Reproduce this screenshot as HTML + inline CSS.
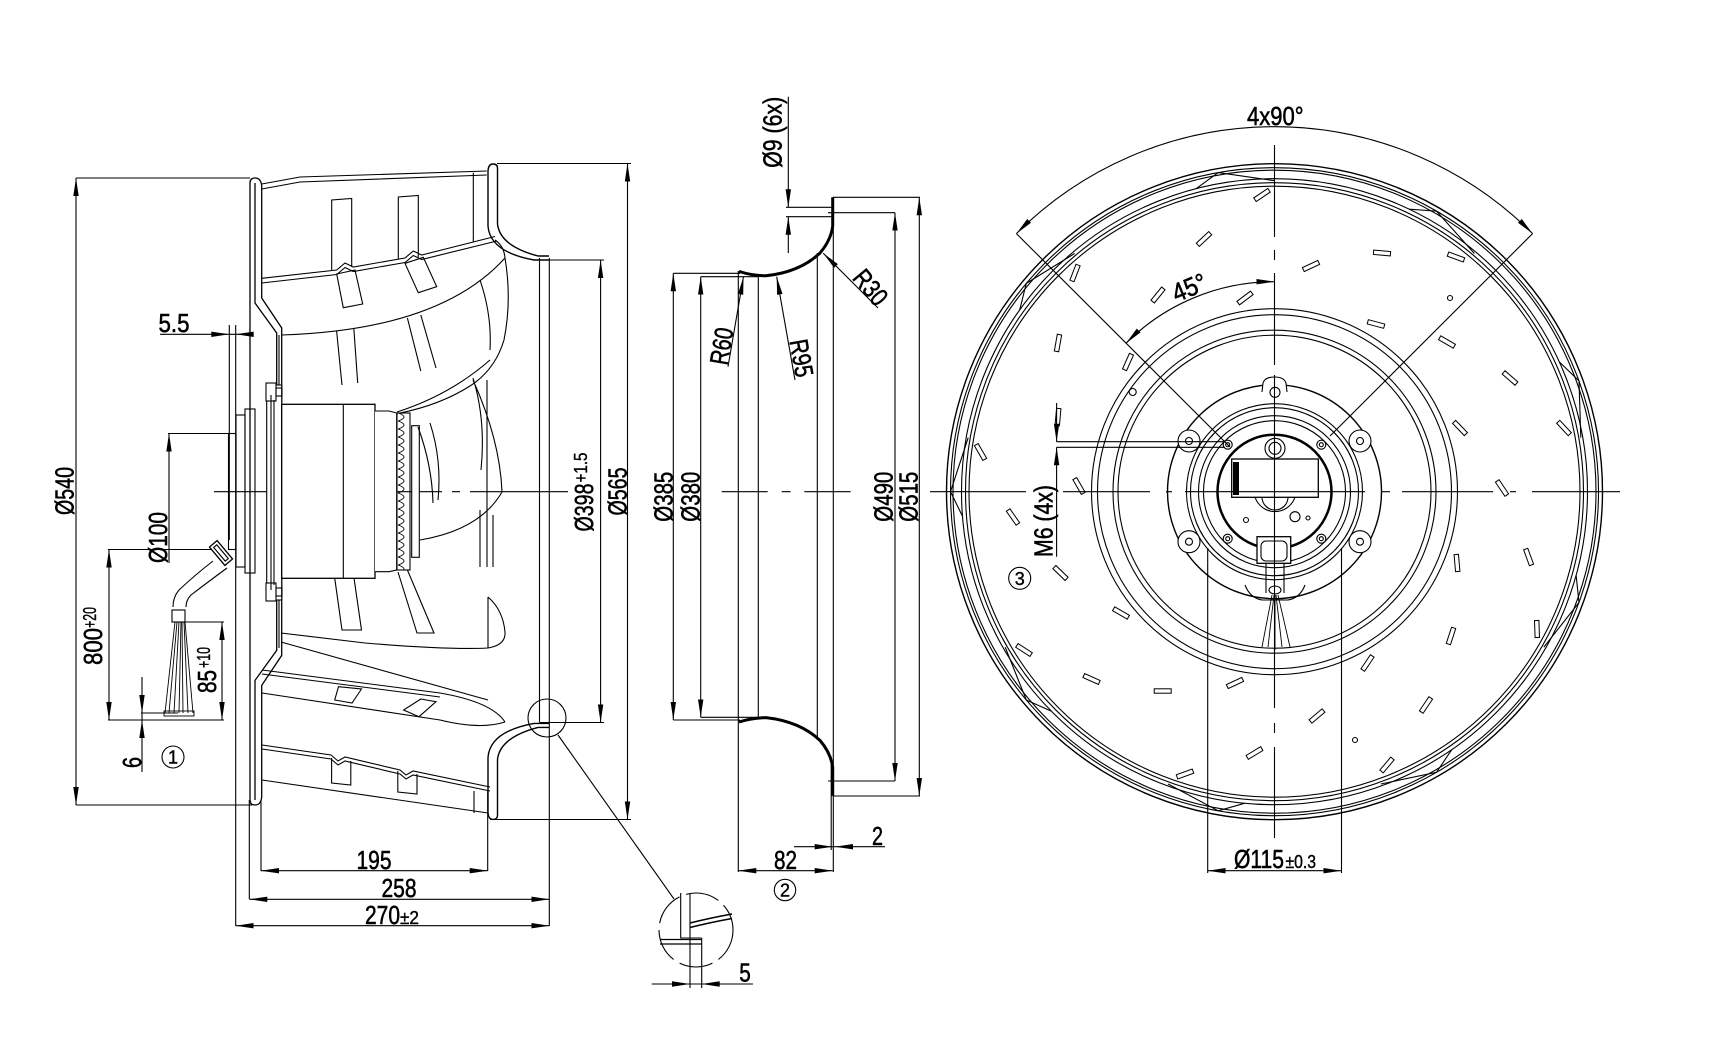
<!DOCTYPE html>
<html><head><meta charset="utf-8"><style>
html,body{margin:0;padding:0;background:#fff}
svg{display:block}
text{font-family:"Liberation Sans",sans-serif;fill:#000;stroke:#000;stroke-width:0.55px;font-size:26px}
.s{font-size:18px;stroke-width:0.4px}
</style></head><body>
<svg width="1720" height="1051" viewBox="0 0 1720 1051" xmlns="http://www.w3.org/2000/svg">
<defs>
<marker id="a" markerUnits="userSpaceOnUse" markerWidth="18" markerHeight="6" refX="18" refY="3" orient="auto-start-reverse" viewBox="0 0 18 6"><path d="M0,0.3 L18,3 L0,5.7Z" fill="#000" stroke="none"/></marker>
<pattern id="fin" patternUnits="userSpaceOnUse" x="397" y="413" width="13" height="8"><path d="M1,0 Q13,4 1,8" fill="none" stroke="#000" stroke-width="0.9"/></pattern>
</defs>
<rect width="1720" height="1051" fill="#fff"/>
<g fill="none" stroke="#000" stroke-width="1.1">

<!-- ================= LEFT VIEW ================= -->
<path d="M76,178H250 M76,805H252 M497,163.5H631 M490,819.5H631 M540,260H604 M540,722.5H604 M168,433.5H231 M108,549.5H212 M185,622H224 M108,720H224 M141,713H178"/>
<path d="M229.3,325V540 M235.7,325V926 M249.3,800V899 M261,800V871 M487.7,790V871 M549.3,258V926 M539.5,258V722.5"/>
<path d="M76,178V805" marker-start="url(#a)" marker-end="url(#a)"/>
<path d="M627.5,163.5V819.5" marker-start="url(#a)" marker-end="url(#a)"/>
<path d="M600.6,260V722.5" marker-start="url(#a)" marker-end="url(#a)"/>
<path d="M109,549.5V720" marker-start="url(#a)" marker-end="url(#a)"/>
<path d="M222,622V720" marker-start="url(#a)" marker-end="url(#a)"/>
<path d="M261,870.7H487.7" marker-start="url(#a)" marker-end="url(#a)"/>
<path d="M249.3,899.3H549.3" marker-start="url(#a)" marker-end="url(#a)"/>
<path d="M235.7,925.7H549.3" marker-start="url(#a)" marker-end="url(#a)"/>
<path d="M169,433.5V563" marker-start="url(#a)"/>
<path d="M142,677V772 M160,334.3H252"/>
<g fill="#000" stroke="none">
<polygon points="142,713 139.3,695 144.7,695"/><polygon points="142,720 139.3,738 144.7,738"/>
<polygon points="229.3,334.3 211.3,331.6 211.3,337"/><polygon points="235.7,334.3 253.7,331.6 253.7,337"/>
</g>
<path d="M214,491.7H568" stroke-dasharray="100 10 8 10"/>

<path d="M250,800V183Q250,178 255,178Q261,178 261.7,186" stroke-width="1.3"/>
<path d="M250,800Q250,805 255,805Q261,805 261.7,797" stroke-width="1.3"/>
<path d="M255,183V303L276.7,333V650.4L255,680.4V800" stroke-width="1.3"/>
<path d="M261.7,186V298L281.7,328V655.4L261.7,685.4V797" stroke-width="1.3"/>
<path d="M279,335V385 M279,598V648"/>
<rect x="228.5" y="433.5" width="7.5" height="116"/>
<rect x="236" y="415" width="9" height="152"/>
<rect x="245" y="409" width="10" height="164"/>
<rect x="266.7" y="385" width="15" height="215" fill="#fff"/>
<rect x="266" y="383" width="10" height="18" fill="#fff"/><rect x="276" y="388" width="6" height="8"/>
<rect x="266" y="583" width="10" height="18" fill="#fff"/><rect x="276" y="588" width="6" height="8"/>
<path d="M271,395V590 M274,400V585"/>
<rect x="281.7" y="404.3" width="93.3" height="174" fill="#fff" stroke-width="1.3"/>
<path d="M343.3,404.3V578.3"/>
<path d="M375,411H389L396.7,413V570L389,571.7H375" fill="#fff"/>
<rect x="397" y="413" width="13" height="157" fill="url(#fin)"/>
<rect x="411.7" y="425.7" width="7.6" height="131.6" fill="#fff"/>
<rect x="-5" y="-12" width="10" height="24" transform="translate(221,553) rotate(-40)" fill="#fff" stroke-width="1.3"/>
<rect x="-2" y="-9" width="4" height="18" transform="translate(221,553) rotate(-40)"/>
<path d="M213,561Q195,575 179,590Q173,597 173,607 M227,568Q208,582 191,595Q186,600 186,607"/>
<rect x="172" y="610" width="13" height="12"/>
<path d="M175,622L165,713 M177,622L169,713 M179,622L174,713 M181,622L179,713 M182,622L183,713 M184,622L188,713 M185,622L193,713" stroke-width="0.9"/>
<rect x="164" y="711" width="30" height="5" stroke-width="0.9"/>

<path d="M261.7,184L300,177L486.7,171 M261.7,189L300,182L486.7,175"/>
<path d="M473.3,172.7V241.7"/>
<path d="M331.7,270V200L351.7,198.5V267 M398.3,259V197L418.3,195.5V257"/>
<path d="M261.7,278.3L336.7,270L345,263L353.3,267L405,258L413.3,251L421.7,255L495,236.5" />
<path d="M261.7,283L336.7,274.5L345,267.5L353.3,271.5L405,262.5L413.3,255.5L421.7,259.5L497,241"/>
<path d="M336.7,274L355,270L362.7,304L343.3,307.7Z M405,263.3L423.3,257.3L436.7,286.7L418.3,292.7Z"/>
<path d="M488,226V172Q488,164 493,164Q497.5,164 497.5,168V224" stroke-width="1.4"/>
<path d="M488,226Q490,252 534,260H549 M497.5,224Q500,246 538,256H549" stroke-width="1.4"/>
<path d="M281.7,335Q440,330 505,258"/>
<path d="M336.6,331L342,385 M353.8,328L357.7,383 M407.4,318L420.8,371 M420.8,315L436,368"/>
<path d="M495,240Q504,246 505,258Q512,300 504,340Q495,370 470,386Q440,405 400,413"/>
<path d="M480,280Q492,315 490,350 M397,412Q450,395 490,360"/>
<path d="M487,380V567 M473,378Q486,420 481,470 M502,492Q500,440 473,380"/>
<path d="M418,427Q432,465 433,503 M430,423Q442,460 438,500"/>
<path d="M420,540Q480,530 502,492"/>
<path d="M334.7,578L342,630H361.5L354,578 M398,572L417,633H434L407.4,570"/>
<path d="M480,510V567 M493,515V567"/>
<path d="M281,633L365,643Q450,650 488,648Q506,645 505,632Q503,610 488,597 M488,597V648"/>
<path d="M281,642L488,700"/>
<path d="M262,670L440,693Q492,702 505,722 M262,674L440,697 M262,693L440,720Q480,730 505,722"/>
<path d="M338.5,686.7L361.5,689L352,703L334.7,700Z M420.8,699L436,701.7L419,716.7L403.6,710Z"/>
<path d="M262,745L331,755L338,761L345,757L400,770L406,775L413,771L490,787 M262,749L331,759L338,765L345,761L400,774L406,779L413,775L490,791"/>
<path d="M262,780L488,813 M474,791V813"/>
<path d="M331.6,758V783L350.8,785V761 M397.8,771V792L417,794V774"/>
<path d="M488,757.4V811.4Q488,819.4 493,819.4Q497.5,819.4 497.5,815.4V759.4" stroke-width="1.4"/>
<path d="M488,757.4Q490,731.4 534,723.4H549 M497.5,759.4Q500,737.4 538,727.4H549" stroke-width="1.4"/>
<circle cx="547" cy="718" r="19"/>
<path d="M558,735L674,899"/>
<circle cx="173" cy="757" r="11"/>

<!-- ================= MIDDLE VIEW ================= -->
<path d="M673.3,273.3H740 M673.3,720H740 M700.7,276.7H758 M700.7,717.3H758 M828,212.7H895 M828,781H895 M833,197.3H920 M833,796H920 M786,207.3H833 M786,216.7H833"/>
<path d="M738.3,271V872 M758.3,276V717 M817.3,253V740 M833.3,197V872 M831.2,760V850"/>
<path d="M673.3,273.3V720" marker-start="url(#a)" marker-end="url(#a)"/>
<path d="M700.7,276.7V717.3" marker-start="url(#a)" marker-end="url(#a)"/>
<path d="M895,212.7V781" marker-start="url(#a)" marker-end="url(#a)"/>
<path d="M919.3,197.3V796" marker-start="url(#a)" marker-end="url(#a)"/>
<path d="M738.3,870.7H832.7" marker-start="url(#a)" marker-end="url(#a)"/>
<path d="M794,846.7H885 M788.3,96.7V207.3 M788.3,216.7V253"/>
<path d="M739,271.5L741,272Q752,275.5 766,275.8Q800,272 820,253Q831,240 832.7,226L832.7,197.3" stroke-width="3"/>
<path d="M739,721.9L741,721.4Q752,717.9 766,717.6Q800,721.4 820,740.4Q831,753.4 832.7,767.4L832.7,796.1" stroke-width="3"/>
<path d="M743.5,276.7L728,366.7 M776.7,276.7L795,380 M823.3,253.3L878,308"/>
<path d="M721.7,491.7H767.7 M781.7,491.7H790.7 M804.3,491.7H850.7"/>
<g fill="#000" stroke="none">
<polygon points="832.7,846.7 814.7,844 814.7,849.4"/><polygon points="835,846.7 853,844 853,849.4"/>
<polygon points="788.3,207.3 785.6,189.3 791,189.3"/><polygon points="788.3,216.7 785.6,234.7 791,234.7"/>
<polygon points="743.5,276.7 743.2,294.8 737.9,294"/>
<polygon points="776.7,276.7 782.5,293.9 777.1,294.9"/>
<polygon points="823.3,253.3 837.9,264.1 834.1,267.9"/>
<polygon points="690,984 672,981.3 672,986.7"/><polygon points="701.7,984 719.7,981.3 719.7,986.7"/>
</g>
<circle cx="785" cy="890" r="10.7"/>
<circle cx="696" cy="930" r="37" stroke-dasharray="34 7"/>
<path d="M680.7,893V938H701.7 M690,893V988 M701.7,938V988 M651.7,984H753"/>
<path d="M660,939.5H701.7 M660,944H701.7" stroke-width="1.3"/>
<path d="M690,923Q710,918 732,914 M690,927.5Q710,922.5 732,918.5" stroke-width="1.5"/>

<!-- ================= RIGHT VIEW ================= -->
<g transform="translate(1274.5,491.7)">
<circle r="328" stroke-width="1.4"/><circle r="324"/><circle r="321.5"/>
<circle r="313"/><circle r="309"/><circle r="305.5"/>
<circle r="183"/><circle r="177"/><circle r="161.5"/><circle r="156.5"/>
</g>
<path d="M1559.3,361.9L1579,380.9L1580.8,437.7 M1409.2,209.2L1436.5,211.1L1474.4,253.5 M1196.1,188.7L1218.2,172.6L1274.5,180.7 M1019.7,309.9L1026.3,283.4L1074.6,253.5 M962.5,516.3L950.5,491.7L968.2,437.7 M1051.2,711.1L1026.3,700L1005.2,647.2 M1244.5,803.3L1218.2,810.8L1168.1,784 M1451.8,749.6L1436.5,772.3L1380.9,784 M1576.1,575.3L1579,602.5L1543.8,647.2"/>
<g stroke-width="1">
<rect x="-8.5" y="-2.2" width="17" height="4.4" transform="translate(1262,195) rotate(-34)"/>
<rect x="-8.5" y="-2.2" width="17" height="4.4" transform="translate(1204,239) rotate(-43)"/>
<rect x="-8.5" y="-2.2" width="17" height="4.4" transform="translate(1382,253) rotate(5)"/>
<rect x="-8.5" y="-2.2" width="17" height="4.4" transform="translate(1456,257) rotate(20)"/>
<rect x="-8.5" y="-2.2" width="17" height="4.4" transform="translate(1311,266) rotate(-25)"/>
<rect x="-8.5" y="-2.2" width="17" height="4.4" transform="translate(1075,273) rotate(-69)"/>
<rect x="-8.5" y="-2.2" width="17" height="4.4" transform="translate(1158,295) rotate(-51)"/>
<rect x="-8.5" y="-2.2" width="17" height="4.4" transform="translate(1245,298) rotate(-37)"/>
<rect x="-8.5" y="-2.2" width="17" height="4.4" transform="translate(1376,324) rotate(15)"/>
<rect x="-8.5" y="-2.2" width="17" height="4.4" transform="translate(1058,343) rotate(-80)"/>
<rect x="-8.5" y="-2.2" width="17" height="4.4" transform="translate(1447,342) rotate(30)"/>
<rect x="-8.5" y="-2.2" width="17" height="4.4" transform="translate(1128,362) rotate(-66)"/>
<rect x="-8.5" y="-2.2" width="17" height="4.4" transform="translate(1510,378) rotate(41)"/>
<rect x="-8.5" y="-2.2" width="17" height="4.4" transform="translate(1058,417) rotate(-85)"/>
<rect x="-8.5" y="-2.2" width="17" height="4.4" transform="translate(980.5,452) rotate(60)"/>
<rect x="-8.5" y="-2.2" width="17" height="4.4" transform="translate(1460,428) rotate(46)"/>
<rect x="-8.5" y="-2.2" width="17" height="4.4" transform="translate(1564,428) rotate(47)"/>
<rect x="-8.5" y="-2.2" width="17" height="4.4" transform="translate(1079,486) rotate(60)"/>
<rect x="-8.5" y="-2.2" width="17" height="4.4" transform="translate(1502,488) rotate(56)"/>
<rect x="-8.5" y="-2.2" width="17" height="4.4" transform="translate(1013,517) rotate(55)"/>
<rect x="-8.5" y="-2.2" width="17" height="4.4" transform="translate(1060.5,573) rotate(44)"/>
<rect x="-8.5" y="-2.2" width="17" height="4.4" transform="translate(1528.6,557) rotate(70)"/>
<rect x="-8.5" y="-2.2" width="17" height="4.4" transform="translate(1457,563) rotate(85)"/>
<rect x="-8.5" y="-2.2" width="17" height="4.4" transform="translate(1121,613) rotate(30)"/>
<rect x="-8.5" y="-2.2" width="17" height="4.4" transform="translate(1537,629) rotate(88)"/>
<rect x="-8.5" y="-2.2" width="17" height="4.4" transform="translate(1451,636) rotate(-72)"/>
<rect x="-8.5" y="-2.2" width="17" height="4.4" transform="translate(1024,650) rotate(33)"/>
<rect x="-8.5" y="-2.2" width="17" height="4.4" transform="translate(1367.5,663) rotate(-56)"/>
<rect x="-8.5" y="-2.2" width="17" height="4.4" transform="translate(1091.5,679) rotate(24)"/>
<rect x="-8.5" y="-2.2" width="17" height="4.4" transform="translate(1235,683) rotate(-25)"/>
<rect x="-8.5" y="-2.2" width="17" height="4.4" transform="translate(1162.7,691) rotate(0)"/>
<rect x="-8.5" y="-2.2" width="17" height="4.4" transform="translate(1426,705) rotate(-56)"/>
<rect x="-8.5" y="-2.2" width="17" height="4.4" transform="translate(1317,716) rotate(-40)"/>
<rect x="-8.5" y="-2.2" width="17" height="4.4" transform="translate(1254.5,753) rotate(-31)"/>
<rect x="-8.5" y="-2.2" width="17" height="4.4" transform="translate(1387,765) rotate(-50)"/>
<rect x="-8.5" y="-2.2" width="17" height="4.4" transform="translate(1185,774) rotate(-20)"/>
</g>
<circle cx="1450" cy="298" r="2.5"/><circle cx="1132.7" cy="392" r="3.5"/><circle cx="1355" cy="740" r="2.5"/>

<g transform="translate(1274.5,491.7)">
<circle r="107" stroke-width="1.4" fill="#fff"/>
<circle r="88"/><circle r="84"/><circle r="76"/><circle r="71"/>
<circle r="57" stroke-width="2.5"/>
</g>
<path d="M1262,392L1263,383Q1265,377 1274.5,377Q1284,377 1286,383L1287,392" fill="#fff"/>
<circle cx="1275" cy="392.3" r="5"/>
<g fill="#fff">
<circle cx="1189" cy="441" r="11"/><circle cx="1360" cy="441" r="11"/><circle cx="1189" cy="541.7" r="11"/><circle cx="1360" cy="541.7" r="11"/>
</g>
<circle cx="1189" cy="441" r="3.5"/><circle cx="1360" cy="441" r="3.5"/><circle cx="1189" cy="541.7" r="3.5"/><circle cx="1360" cy="541.7" r="3.5"/>
<g>
<circle cx="1227.7" cy="444.7" r="4.5"/><circle cx="1227.7" cy="444.7" r="2"/>
<circle cx="1321.3" cy="444.7" r="4.5"/><circle cx="1321.3" cy="444.7" r="2"/>
<circle cx="1227.7" cy="538.7" r="4.5"/><circle cx="1227.7" cy="538.7" r="2"/>
<circle cx="1321.3" cy="538.7" r="4.5"/><circle cx="1321.3" cy="538.7" r="2"/>
</g>
<circle cx="1275" cy="448.3" r="10"/><circle cx="1275" cy="448.3" r="6"/>
<path d="M1255,497A21,21 0 0 0 1295,497 M1262,497A13,13 0 0 0 1288,497"/>
<rect x="1231.7" y="459" width="86.6" height="38.3" fill="#fff" stroke-width="1.3"/>
<rect x="1233" y="462" width="6" height="33" fill="#000" stroke="none"/>
<circle cx="1246" cy="520" r="2.5"/><circle cx="1308" cy="518" r="2"/><circle cx="1295" cy="516.7" r="5"/>
<path d="M1245,585Q1250,598 1262,600H1288Q1300,598 1305,585"/>
<rect x="1257" y="536.7" width="33.7" height="26.6" fill="#fff" stroke-width="1.3"/>
<rect x="1261" y="541" width="26" height="20" rx="5"/>
<path d="M1266,563V593 M1284,563V593"/>
<ellipse cx="1275" cy="590" rx="6" ry="4"/>
<path d="M1272,595L1262,647 M1274,595L1268,647 M1275,595L1275,650 M1276,595L1282,647 M1278,595L1290,647" stroke-width="0.9"/>
<path d="M930,491.7H1026 M1063,491.7H1150 M1166,491.7H1172 M1185,491.7H1365 M1382,491.7H1390 M1402,491.7H1493 M1510,491.7H1516 M1532,491.7H1620"/>
<path d="M1274.5,145V237 M1274.5,250V260 M1274.5,273V365 M1274.5,375V708 M1274.5,723V733 M1274.5,747V838"/>
<path d="M1230,447L1016.4,233.6 M1330,436L1532.6,233.6"/>
<path d="M1016.4,233.6A365,365 0 0 1 1532.6,233.6"/>
<path d="M1126,343.2A210,210 0 0 1 1274.5,281.7"/>
<g fill="#000" stroke="none">
<polygon points="1016.4,233.6 1027.2,219 1031,222.8"/>
<polygon points="1532.6,233.6 1518,222.8 1521.8,219"/>
<polygon points="1126,343.2 1136.8,328.6 1140.6,332.4"/>
<polygon points="1274.5,281.7 1256.5,279 1256.5,284.4"/>
<polygon points="1056.6,441.7 1053.9,423.7 1059.3,423.7"/>
<polygon points="1056.6,447.3 1053.9,465.3 1059.3,465.3"/>
</g>
<path d="M1056.6,441.7H1225 M1056.6,447.3H1225 M1056.6,403V441.7 M1056.6,447.3V556.7"/>
<path d="M1207.7,548V873 M1341.5,548V873"/>
<path d="M1207.7,870.7H1341.5" marker-start="url(#a)" marker-end="url(#a)"/>
<circle cx="1019.7" cy="578.3" r="11"/>
</g>

<!-- ================= TEXT ================= -->
<text x="158.5" y="332" textLength="31" lengthAdjust="spacingAndGlyphs">5.5</text>
<text x="356.5" y="869" textLength="35" lengthAdjust="spacingAndGlyphs">195</text>
<text x="381.5" y="897" textLength="35" lengthAdjust="spacingAndGlyphs">258</text>
<text x="365" y="924" textLength="35" lengthAdjust="spacingAndGlyphs">270</text>
<text class="s" x="400" y="924" textLength="19" lengthAdjust="spacingAndGlyphs">±2</text>
<text x="774" y="869" textLength="23" lengthAdjust="spacingAndGlyphs">82</text>
<text x="872" y="845" textLength="11" lengthAdjust="spacingAndGlyphs">2</text>
<text x="739.3" y="981.7" textLength="11.5" lengthAdjust="spacingAndGlyphs">5</text>
<text x="1234" y="868" textLength="50" lengthAdjust="spacingAndGlyphs">Ø115</text>
<text class="s" x="1285.5" y="868" textLength="30.5" lengthAdjust="spacingAndGlyphs">±0.3</text>
<text x="1247" y="125" textLength="56.6" lengthAdjust="spacingAndGlyphs">4x90°</text>
<text transform="translate(1189,287) rotate(-22.5)" x="-17.5" y="9.5" textLength="35" lengthAdjust="spacingAndGlyphs">45°</text>

<text transform="translate(64,491) rotate(-90)" x="-24" y="9.5" textLength="48" lengthAdjust="spacingAndGlyphs">Ø540</text>
<text transform="translate(157.5,537.5) rotate(-90)" x="-25.5" y="9.5" textLength="51" lengthAdjust="spacingAndGlyphs">Ø100</text>
<text transform="translate(92.5,646.5) rotate(-90)" x="-18.5" y="9.5" textLength="37" lengthAdjust="spacingAndGlyphs">800</text>
<text class="s" transform="translate(89.5,617.5) rotate(-90)" x="-10.5" y="6.5" textLength="21" lengthAdjust="spacingAndGlyphs">+20</text>
<text transform="translate(206.5,681.5) rotate(-90)" x="-11.5" y="9.5" textLength="23" lengthAdjust="spacingAndGlyphs">85</text>
<text class="s" transform="translate(203.5,657.5) rotate(-90)" x="-10.5" y="6.5" textLength="21" lengthAdjust="spacingAndGlyphs">+10</text>
<text transform="translate(131.5,762.5) rotate(-90)" x="-5.5" y="9.5" textLength="11" lengthAdjust="spacingAndGlyphs">6</text>
<text transform="translate(583.5,507.5) rotate(-90)" x="-24" y="9.5" textLength="48" lengthAdjust="spacingAndGlyphs">Ø398</text>
<text class="s" transform="translate(580.5,467.5) rotate(-90)" x="-15" y="6.5" textLength="30" lengthAdjust="spacingAndGlyphs">+1.5</text>
<text transform="translate(617,491.5) rotate(-90)" x="-24" y="9.5" textLength="48" lengthAdjust="spacingAndGlyphs">Ø565</text>
<text transform="translate(663,496.7) rotate(-90)" x="-25" y="9.5" textLength="50" lengthAdjust="spacingAndGlyphs">Ø385</text>
<text transform="translate(690,496.7) rotate(-90)" x="-25" y="9.5" textLength="50" lengthAdjust="spacingAndGlyphs">Ø380</text>
<text transform="translate(883,496.7) rotate(-90)" x="-25" y="9.5" textLength="50" lengthAdjust="spacingAndGlyphs">Ø490</text>
<text transform="translate(908,496.7) rotate(-90)" x="-25" y="9.5" textLength="50" lengthAdjust="spacingAndGlyphs">Ø515</text>
<text transform="translate(772,132.3) rotate(-90)" x="-35.5" y="9.5" textLength="71" lengthAdjust="spacingAndGlyphs">Ø9 (6x)</text>
<text transform="translate(1043,521) rotate(-90)" x="-36" y="9.5" textLength="72" lengthAdjust="spacingAndGlyphs">M6 (4x)</text>
<text transform="translate(721,346) rotate(-80.5)" x="-18.5" y="9.5" textLength="37" lengthAdjust="spacingAndGlyphs">R60</text>
<text transform="translate(802,358) rotate(80)" x="-19" y="9.5" textLength="38" lengthAdjust="spacingAndGlyphs">R95</text>
<text transform="translate(871,287) rotate(50)" x="-19" y="9.5" textLength="38" lengthAdjust="spacingAndGlyphs">R30</text>

<text class="s" x="173" y="763.5" text-anchor="middle">1</text>
<text class="s" x="785" y="896.5" text-anchor="middle">2</text>
<text class="s" x="1019.7" y="584.8" text-anchor="middle">3</text>
</svg>
</body></html>
